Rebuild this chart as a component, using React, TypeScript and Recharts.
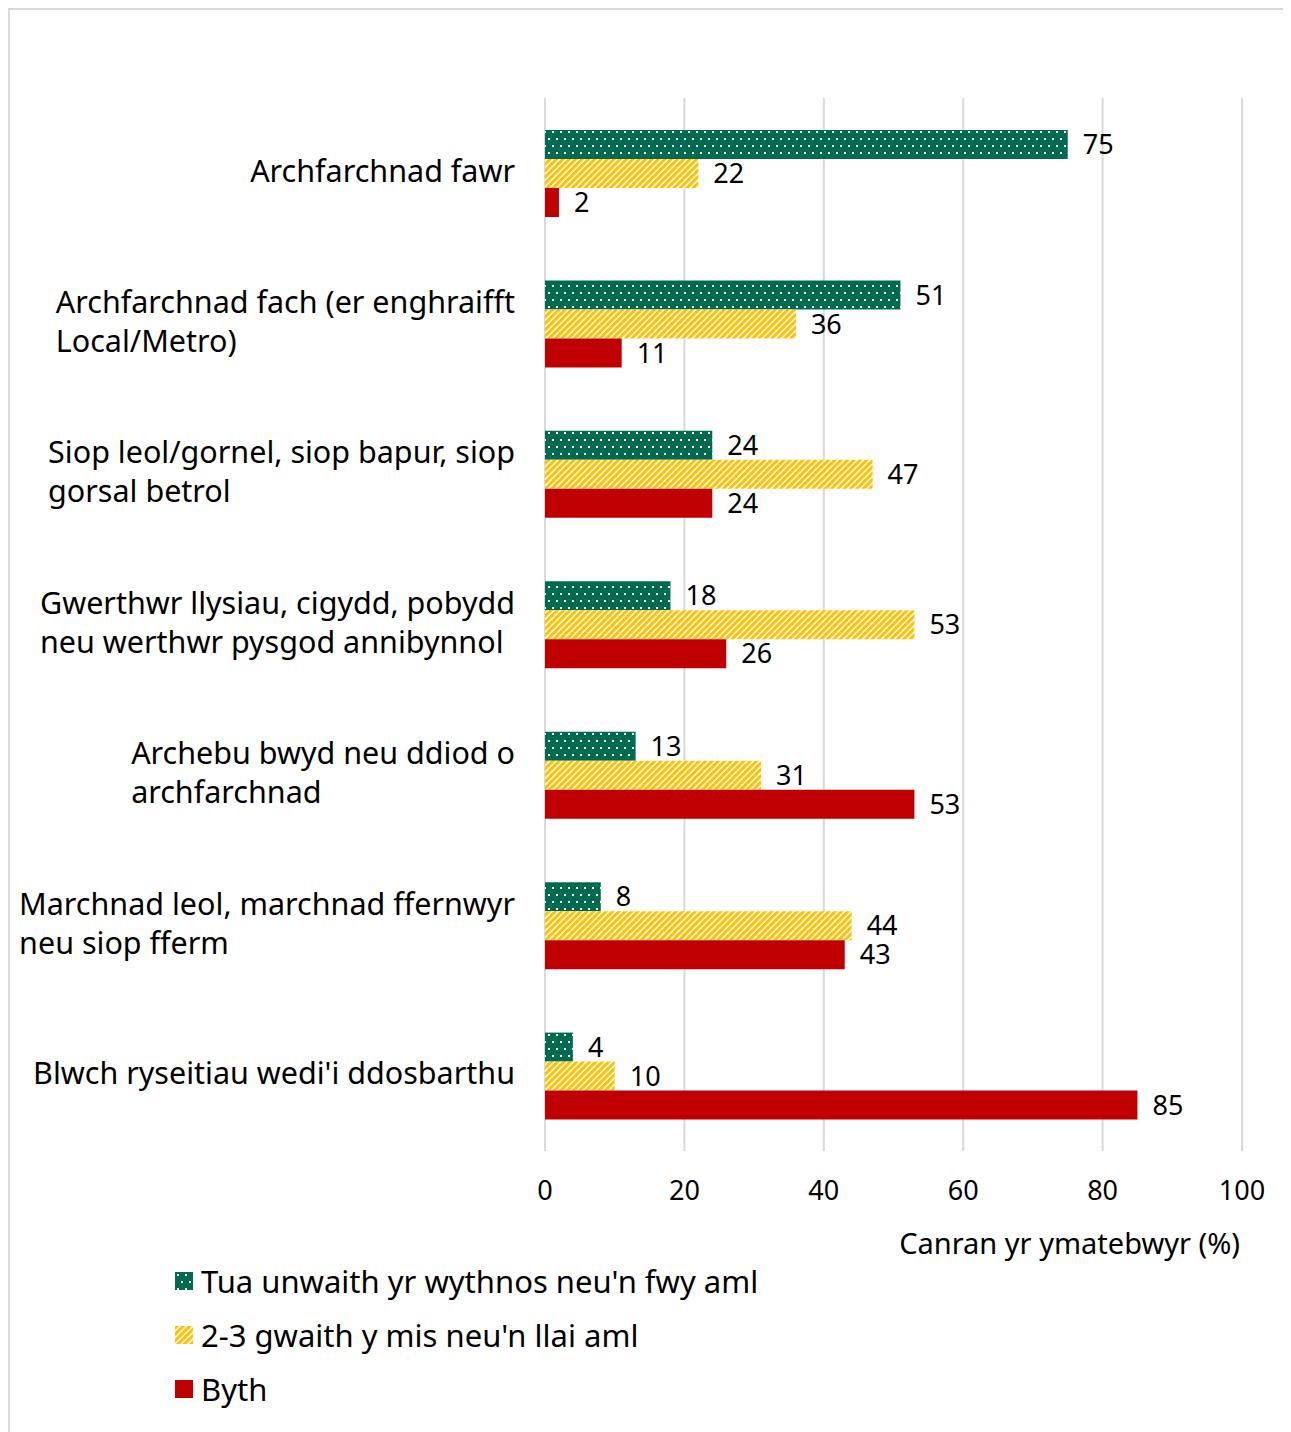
import { BarChart, Bar, XAxis, YAxis, CartesianGrid, LabelList } from 'recharts';

// Shop types, one wrapped label per row ('\n' marks the line break)
const categories = [
  'Archfarchnad fawr',
  'Archfarchnad fach (er enghraifft\nLocal/Metro)',
  'Siop leol/gornel, siop bapur, siop\ngorsal betrol',
  'Gwerthwr llysiau, cigydd, pobydd\nneu werthwr pysgod annibynnol',
  'Archebu bwyd neu ddiod o\narchfarchnad',
  'Marchnad leol, marchnad ffernwyr\nneu siop fferm',
  "Blwch ryseitiau wedi'i ddosbarthu",
];

const weekly = [75, 51, 24, 18, 13, 8, 4];
const monthly = [22, 36, 47, 53, 31, 44, 10];
const never = [2, 11, 24, 26, 53, 43, 85];

const seriesNames = [
  "Tua unwaith yr wythnos neu'n fwy aml",
  "2-3 gwaith y mis neu'n llai aml",
  'Byth',
];

const xTicks = [0, 20, 40, 60, 80, 100];
const xTitle = 'Canran yr ymatebwyr (%)';

const data = categories.map((name, i) => ({
  name,
  weekly: weekly[i],
  monthly: monthly[i],
  never: never[i],
}));

const FONT = '"Noto Sans", "Open Sans", sans-serif';
const GREEN = '#006b4f';
const YELLOW = '#ffc000';
const RED = '#c00000';

let measureCtx: CanvasRenderingContext2D | null = null;
const textWidth = (s: string, size: number) => {
  if (!measureCtx) measureCtx = document.createElement('canvas').getContext('2d');
  if (!measureCtx) return s.length * size * 0.55;
  measureCtx.font = `${size}px ${FONT}`;
  return measureCtx.measureText(s).width;
};

const CategoryTick = ({ x, y, payload }: any) => {
  const lines: string[] = String(payload.value).split('\n');
  const size = 30.5;
  const lineH = 39;
  const right = x - 22;
  const w = Math.max(...lines.map((l) => textWidth(l, size)));
  const start = right - w;
  const top = y - 2 - ((lines.length - 1) * lineH) / 2;
  return (
    <text fontFamily={FONT} fontSize={size} fill="#000" textAnchor="start">
      {lines.map((l, i) => (
        <tspan key={i} x={start} y={top + i * lineH} dy="0.35em">
          {l}
        </tspan>
      ))}
    </text>
  );
};

const AxisTitle = ({ viewBox }: any) => (
  <text
    x={viewBox.x + viewBox.width - 2}
    y={viewBox.y + 93}
    dy="0.35em"
    textAnchor="end"
    fontFamily={FONT}
    fontSize={29}
    fill="#000"
  >
    {xTitle}
  </text>
);

const Patterns = () => (
  <defs>
    <pattern id="dots" width="8" height="14" patternUnits="userSpaceOnUse">
      <rect width="8" height="14" fill={GREEN} />
      <rect x="2" y="2" width="2" height="2" fill="#fff" />
      <rect x="6" y="9" width="2" height="2" fill="#fff" />
    </pattern>
    <pattern id="stripes" width="4.5" height="4.5" patternUnits="userSpaceOnUse" patternTransform="rotate(45)">
      <rect width="4.5" height="4.5" fill="#fff" />
      <rect width="3" height="4.5" fill={YELLOW} />
    </pattern>
  </defs>
);

const legendFills = ['url(#dots)', 'url(#stripes)', RED];

const valueLabel = { fontFamily: FONT, fontSize: 27, fill: '#000' };

export default function App() {
  return (
    <div style={{ position: 'relative', width: 1275, height: 1430, border: '2px solid #d9d9d9', background: '#fff' }}>
      <BarChart
        width={1275}
        height={1430}
        data={data}
        layout="vertical"
        margin={{ top: 88, right: 43, bottom: 259, left: 0 }}
        barSize={29}
        barGap={0}
      >
        <Patterns />
        <CartesianGrid horizontal={false} stroke="#d9d9d9" strokeWidth={2} />
        <XAxis
          type="number"
          domain={[0, 100]}
          ticks={xTicks}
          axisLine={false}
          tickLine={false}
          tickMargin={24}
          tick={{ fontFamily: FONT, fontSize: 27, fill: '#000' }}
          label={<AxisTitle />}
        />
        <YAxis
          type="category"
          dataKey="name"
          width={535}
          axisLine={false}
          tickLine={false}
          tick={<CategoryTick />}
          interval={0}
        />
        <Bar dataKey="weekly" fill="url(#dots)" isAnimationActive={false}>
          <LabelList dataKey="weekly" position="right" offset={15} style={valueLabel} />
        </Bar>
        <Bar dataKey="monthly" fill="url(#stripes)" isAnimationActive={false}>
          <LabelList dataKey="monthly" position="right" offset={15} style={valueLabel} />
        </Bar>
        <Bar dataKey="never" fill={RED} isAnimationActive={false}>
          <LabelList dataKey="never" position="right" offset={15} style={valueLabel} />
        </Bar>
      </BarChart>
      <div style={{ position: 'absolute', left: 165, top: 1244, fontFamily: FONT, fontSize: 31, color: '#000' }}>
        {seriesNames.map((n, i) => (
          <div key={n} style={{ display: 'flex', alignItems: 'center', height: 54, whiteSpace: 'nowrap' }}>
            <svg width={18} height={18} style={{ marginRight: 8 }}>
              <rect width={18} height={18} fill={legendFills[i]} />
            </svg>
            {n}
          </div>
        ))}
      </div>
    </div>
  );
}
